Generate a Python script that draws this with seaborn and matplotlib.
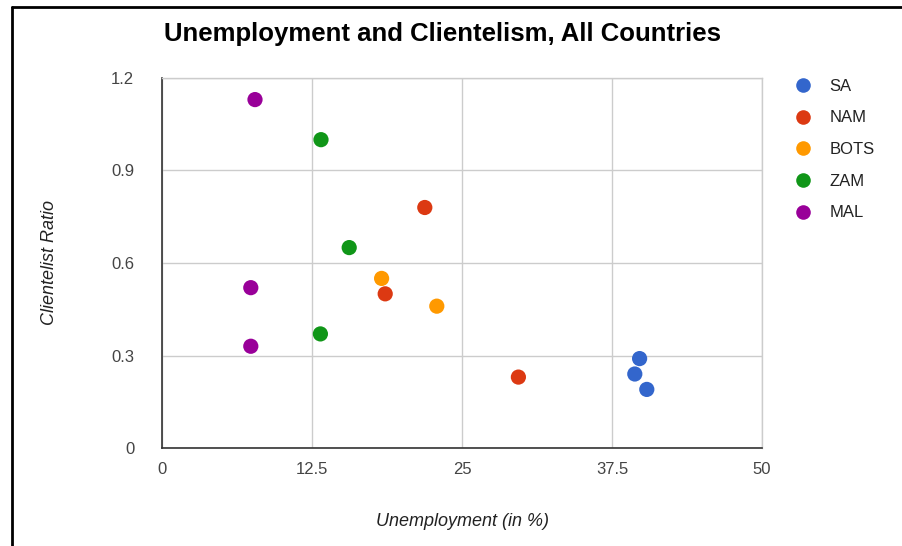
import matplotlib
matplotlib.use("Agg")
import matplotlib.pyplot as plt
import seaborn as sns
import pandas as pd
from matplotlib.lines import Line2D

# ---- data ----
countries = ["SA", "NAM", "BOTS", "ZAM", "MAL"]
sa_x = [39.8, 39.4, 40.4]
sa_y = [0.29, 0.24, 0.19]
nam_x = [21.9, 18.6, 29.7]
nam_y = [0.78, 0.50, 0.23]
bots_x = [18.3, 22.9]
bots_y = [0.55, 0.46]
zam_x = [13.25, 15.6, 13.2]
zam_y = [1.00, 0.65, 0.37]
mal_x = [7.75, 7.4, 7.4]
mal_y = [1.13, 0.52, 0.33]
colors = ["#3366cc", "#dc3912", "#ff9900", "#109618", "#990099"]
x_ticks = [0, 12.5, 25, 37.5, 50]
x_tick_labels = ["0", "12.5", "25", "37.5", "50"]
y_ticks = [0, 0.3, 0.6, 0.9, 1.2]
y_tick_labels = ["0", "0.3", "0.6", "0.9", "1.2"]

xs = [sa_x, nam_x, bots_x, zam_x, mal_x]
ys = [sa_y, nam_y, bots_y, zam_y, mal_y]
rows = []
for c, xv, yv in zip(countries, xs, ys):
    for a, b in zip(xv, yv):
        rows.append({"Country": c, "Unemployment": a, "Ratio": b})
df = pd.DataFrame(rows)

sns.set_theme(style="white")
plt.rcParams["font.family"] = ["Liberation Sans", "DejaVu Sans"]

W, H = 902, 546
fig = plt.figure(figsize=(W / 100, H / 100), dpi=100)
ax = fig.add_axes([162 / W, 1 - 448 / H, 600 / W, 370 / H])

sns.scatterplot(data=df, x="Unemployment", y="Ratio", hue="Country",
                hue_order=countries, palette=colors, s=120, linewidth=0,
                ax=ax, legend=False, zorder=3)

ax.set_xlim(0, 50)
ax.set_ylim(0, 1.2)
ax.set_xticks(x_ticks)
ax.set_xticklabels(x_tick_labels)
ax.set_yticks(y_ticks)
ax.set_yticklabels(y_tick_labels)
ax.grid(True, color="#cccccc", linewidth=1)
ax.set_axisbelow(True)
ax.tick_params(axis="both", length=0, labelsize=12, labelcolor="#444444")
ax.tick_params(axis="x", pad=10)
ax.tick_params(axis="y", pad=20)
for side in ["top", "right"]:
    ax.spines[side].set_color("#cccccc")
    ax.spines[side].set_linewidth(1)
for side in ["left", "bottom"]:
    ax.spines[side].set_color("#333333")
    ax.spines[side].set_linewidth(1.2)

ax.set_xlabel("Unemployment (in %)", fontsize=13, style="italic",
              color="#222222", labelpad=42)
ax.set_ylabel("Clientelist Ratio", fontsize=13, style="italic",
              color="#222222", labelpad=38)
ax.xaxis.set_label_coords(0.5, -(522 - 448) / 370 + 0.0, transform=ax.transAxes)
ax.xaxis.label.set_va("center")

fig.text(442 / W, 1 - 34 / H, "Unemployment and Clientelism, All Countries",
         ha="center", va="center", fontsize=18.5, fontweight="bold",
         color="#000000")

handles = [Line2D([], [], marker="o", linestyle="", markersize=10.5,
                  markerfacecolor=c, markeredgewidth=0) for c in colors]
fig.legend(handles, countries, loc="upper left",
           bbox_to_anchor=(788 / W, 1 - 72 / H), frameon=False,
           fontsize=12, labelcolor="#222222", handletextpad=1.1,
           labelspacing=1.0, handlelength=1.0, borderaxespad=0)

# outer frame (left and top)
fig.add_artist(Line2D([11.5 / W, 11.5 / W], [0, 1 - 6.5 / H],
                      transform=fig.transFigure, color="black", linewidth=2))
fig.add_artist(Line2D([11.5 / W, 1], [1 - 6.5 / H, 1 - 6.5 / H],
                      transform=fig.transFigure, color="black", linewidth=2))

fig.savefig("out.png", dpi=100)
